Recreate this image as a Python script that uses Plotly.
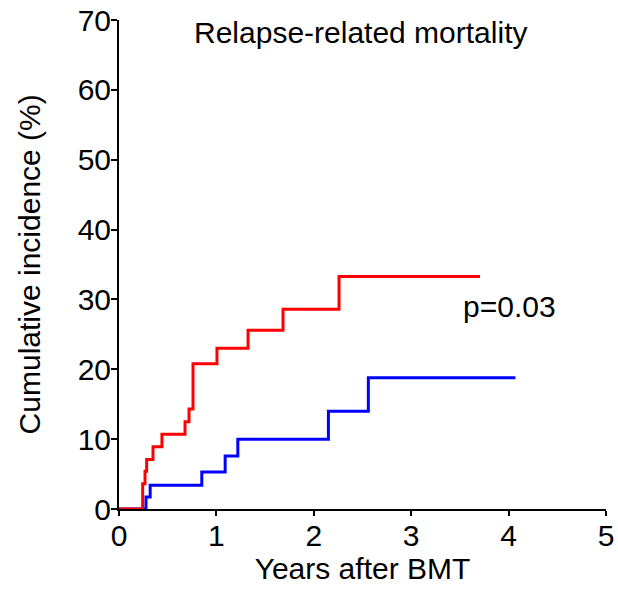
import plotly.graph_objects as go

# Cumulative incidence step data (years after BMT, percent)
red_years = [0, 0.243, 0.267, 0.284, 0.349, 0.441, 0.678, 0.719, 0.760, 1.006, 1.325, 1.684, 2.259, 3.706]
red_pct = [0, 3.6, 5.4, 7.1, 8.9, 10.7, 12.5, 14.3, 20.8, 23.0, 25.6, 28.6, 33.3, 33.3]

blue_years = [0, 0.277, 0.320, 0.850, 1.090, 1.220, 2.150, 2.560, 4.070]
blue_pct = [0, 1.7, 3.4, 5.3, 7.6, 10.0, 14.0, 18.8, 18.8]

x_ticks = [0, 1, 2, 3, 4, 5]
y_ticks = [0, 10, 20, 30, 40, 50, 60, 70]

title_text = "Relapse-related mortality"
p_text = "p=0.03"
x_title = "Years after BMT"
y_title = "Cumulative incidence (%)"

FONT = "Liberation Sans, Arial, sans-serif"
FS = 30

fig = go.Figure()
fig.add_trace(go.Scatter(x=blue_years, y=blue_pct, mode="lines",
                         line=dict(color="#0000FF", width=3, shape="hv"),
                         showlegend=False))
fig.add_trace(go.Scatter(x=red_years, y=red_pct, mode="lines",
                         line=dict(color="#FF0000", width=3, shape="hv"),
                         showlegend=False))

fig.add_annotation(x=2.48, y=68.2, text=title_text, showarrow=False,
                   font=dict(family=FONT, size=FS, color="black"))
fig.add_annotation(x=4.01, y=29.0, text=p_text, showarrow=False,
                   font=dict(family=FONT, size=FS, color="black"))
# vertical axis title placed at the far left of the figure
fig.add_annotation(xref="paper", yref="paper", x=-0.183, y=0.5, text=y_title,
                   textangle=-90, showarrow=False, xanchor="center", yanchor="middle",
                   font=dict(family=FONT, size=FS, color="black"))

axis_common = dict(showgrid=False, zeroline=False, showline=True,
                   linecolor="black", linewidth=2, ticks="outside",
                   tickwidth=2, tickcolor="black", automargin=False,
                   tickfont=dict(family=FONT, size=FS, color="black"))

fig.update_xaxes(range=[0, 5], tickvals=x_ticks, ticklen=5, ticklabelstandoff=-6,
                 title=dict(text=x_title, standoff=0,
                            font=dict(family=FONT, size=FS, color="black")),
                 **axis_common)
fig.update_yaxes(range=[0, 70], tickvals=y_ticks, ticklen=6, ticklabelstandoff=-6,
                 **axis_common)

fig.update_layout(width=618, height=590, plot_bgcolor="white", paper_bgcolor="white",
                  margin=dict(l=119, r=12, t=20, b=81))

fig.write_html("out.html")
